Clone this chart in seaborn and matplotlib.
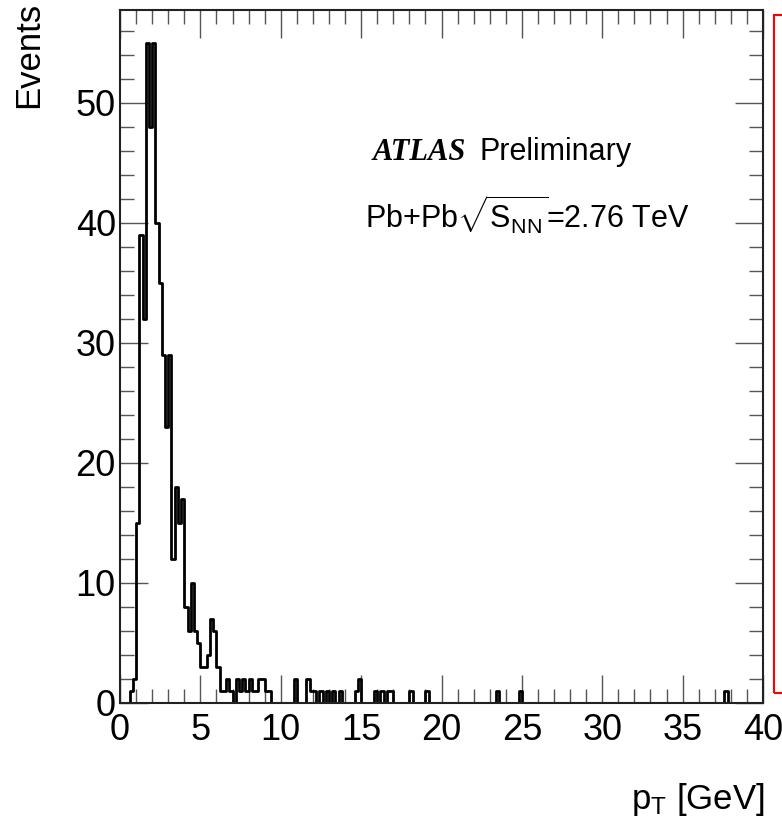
import numpy as np
import pandas as pd
import matplotlib
matplotlib.use('Agg')
import matplotlib.pyplot as plt
from matplotlib.patches import Rectangle
from matplotlib.ticker import MultipleLocator
import seaborn as sns

# Histogram contents (lower bin edge in GeV, events), 0.2 GeV bins
pt_low = [0.6, 0.8, 1.0, 1.2, 1.4, 1.6, 1.8, 2.0, 2.2, 2.4,
          2.6, 2.8, 3.0, 3.2, 3.4, 3.6, 3.8, 4.0, 4.2, 4.4,
          4.6, 4.8, 5.0, 5.2, 5.4, 5.6, 5.8, 6.0, 6.2, 6.4,
          6.6, 6.8, 7.2, 7.4, 7.6, 7.8, 8.0, 8.2, 8.4, 8.6,
          8.8, 9.0, 9.2, 10.8, 11.6, 11.8, 12.0, 12.4, 12.8, 13.2,
          13.6, 14.6, 14.8, 15.8, 16.2, 16.6, 16.8, 18.0, 19.0, 23.4,
          24.8, 37.6]
events = [1, 2, 15, 39, 32, 55, 48, 55, 40, 35,
          29, 23, 29, 12, 18, 15, 17, 8, 6, 10,
          6, 5, 3, 3, 4, 7, 6, 3, 1, 1,
          2, 1, 2, 1, 2, 1, 2, 1, 1, 2,
          2, 1, 1, 2, 2, 1, 1, 1, 1, 1,
          1, 1, 2, 1, 1, 1, 1, 1, 1, 1,
          1, 1]

BIN_W = 0.2
X_MAX = 40
Y_MAX = 57.75

df = pd.DataFrame({'pt': np.array(pt_low) + BIN_W / 2, 'n': events})

sns.set_style('ticks')
plt.rcParams['font.family'] = ['Liberation Sans', 'DejaVu Sans']
plt.rcParams['mathtext.fontset'] = 'custom'
plt.rcParams['mathtext.rm'] = 'Liberation Sans'
plt.rcParams['mathtext.it'] = 'Liberation Sans:italic'
plt.rcParams['mathtext.bf'] = 'Liberation Sans:bold'
plt.rcParams['text.color'] = 'black'
plt.rcParams['xtick.labelcolor'] = 'black'
plt.rcParams['ytick.labelcolor'] = 'black'

fig = plt.figure(figsize=(7.82, 8.26), dpi=100)
ax = fig.add_axes([120 / 782, 1 - 703 / 826, 643 / 782, 693 / 826])

sns.histplot(data=df, x='pt', weights='n', binwidth=BIN_W, binrange=(0, X_MAX),
             element='step', fill=False, color='black', linewidth=2.0, ax=ax)

ax.set_xlim(0, X_MAX)
ax.set_ylim(0, Y_MAX)
ax.set_xlabel('')
ax.set_ylabel('')

ax.xaxis.set_major_locator(MultipleLocator(5))
ax.xaxis.set_minor_locator(MultipleLocator(1))
ax.yaxis.set_major_locator(MultipleLocator(10))
ax.yaxis.set_minor_locator(MultipleLocator(2))
ax.tick_params(which='both', direction='in', top=True, right=True,
               color='#555555', width=1.0)
ax.tick_params(which='major', length=20)
ax.tick_params(which='minor', length=10)
ax.tick_params(axis='x', labelsize=26, pad=7, labelcolor='black')
ax.tick_params(axis='y', labelsize=26, pad=3, labelcolor='black')
for sp in ax.spines.values():
    sp.set_linewidth(1.5)
    sp.set_color('#222222')

# texts
fig.text(373 / 782, 1 - 152 / 826, 'ATLAS', family='Liberation Serif',
         weight='bold', style='italic', fontsize=22, va='center')
fig.text(480 / 782, 1 - 152 / 826, 'Preliminary', fontsize=22, va='center')
fig.text(365 / 782, 1 - 215 / 826,
         r'Pb+Pb$\sqrt{\mathrm{S_{NN}}}$=2.76 TeV', fontsize=22, va='center')

fig.text(29 / 782, 1 - 2 / 826, 'Events', rotation=90, fontsize=25,
         ha='center', va='top')
fig.text(765 / 782, 1 - 800 / 826, r'$\mathrm{p_{T}}$ [GeV]', fontsize=25,
         ha='right', va='center')

# red frame at the right edge
fig.patches.append(Rectangle((774 / 782, 1 - 693 / 826), 0.2, 678 / 826,
                             transform=fig.transFigure, fill=False,
                             edgecolor='red', linewidth=1.5))

fig.savefig('out.png', dpi=100)
